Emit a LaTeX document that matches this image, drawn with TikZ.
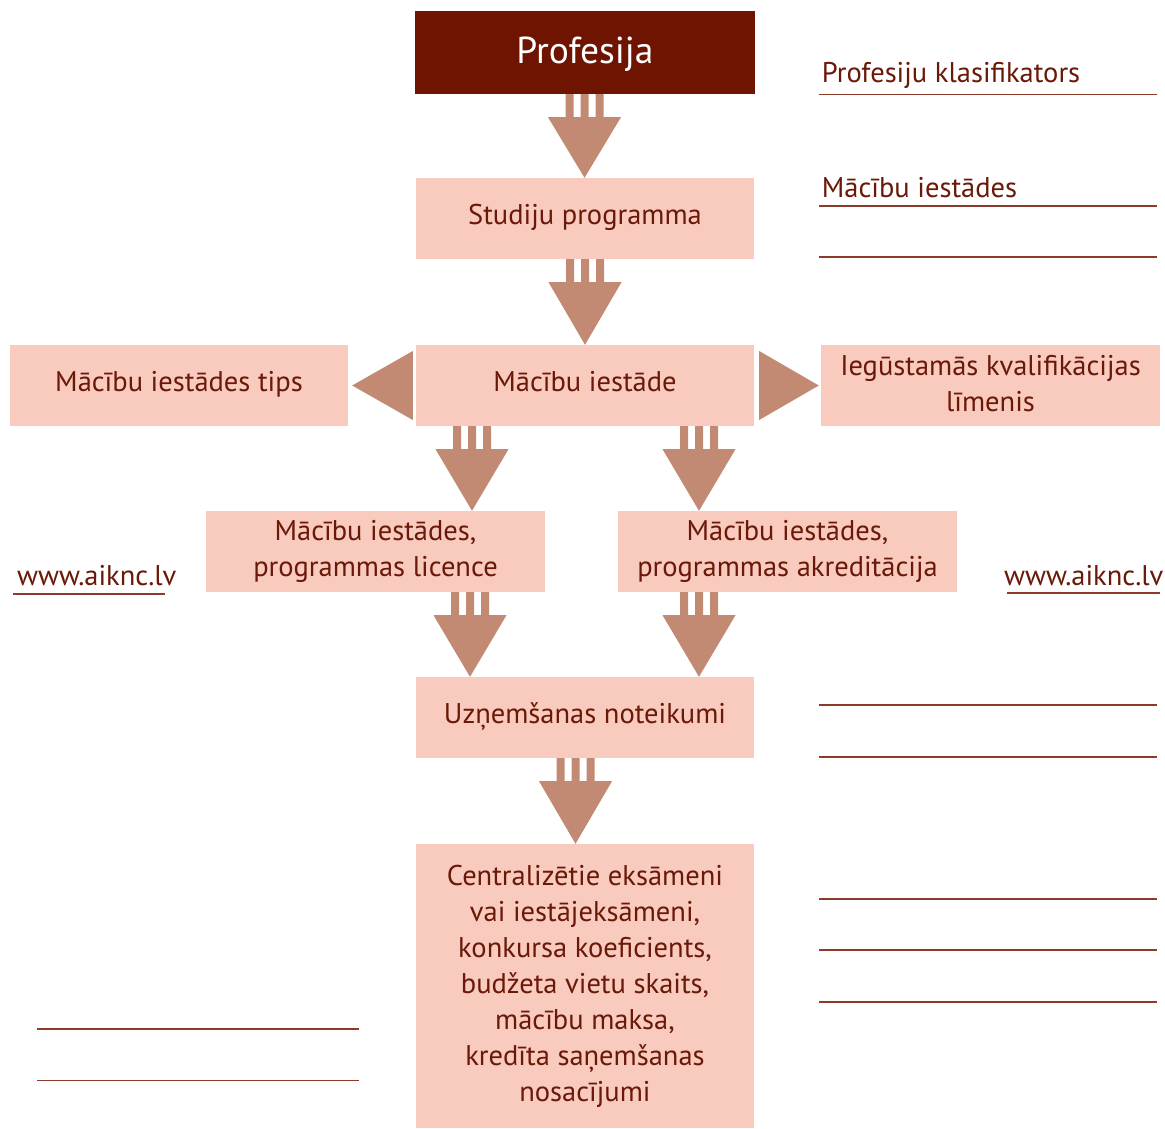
\documentclass[tikz,border=0pt]{standalone}
\usepackage{fontspec}
\setmainfont{PT Sans}
\usetikzlibrary{calc}
\definecolor{darkr}{HTML}{6E1400}
\definecolor{txtc}{HTML}{6A1808}
\definecolor{boxc}{HTML}{F9CBBE}
\definecolor{arrc}{HTML}{C28A73}
\definecolor{rulec}{HTML}{8C3A2A}
\newcommand\dnarrow[3]{%
  \path[arrfill] let \p1=(#2.south), \p2=(#3.north) in
    (#1-19,\y1) rectangle (#1-11,\y1-23pt)
    (#1-4,\y1) rectangle (#1+4,\y1-23pt)
    (#1+11,\y1) rectangle (#1+19,\y1-23pt)
    (#1-36.5,\y1-23pt) -- (#1+36.5,\y1-23pt) -- (#1,\y2) -- cycle;}
\begin{document}
\begin{tikzpicture}[x=1pt,y=-1pt,
  box/.style={rectangle, fill=boxc, text=txtc, minimum width=338pt, minimum height=81pt, inner sep=0pt, align=center, font=\fontsize{28.5}{36}\selectfont},
  onel/.style={text height=21pt, text depth=10pt},
  lbl/.style={text=txtc, anchor=base west, inner sep=0pt, font=\fontsize{28.5}{36}\selectfont},
  rulel/.style={draw=rulec, line width=1.8pt},
  arrfill/.style={fill=arrc}
]
\useasboundingbox (0,0) rectangle (1165,1128);
% boxes
\node[box, fill=darkr, text=white, minimum width=340pt, minimum height=83pt, font=\fontsize{37.5}{40}\selectfont, text depth=4pt] (prof) at (585,52.5) {Profesija};
\node[box, onel] (stud) at (585,218.5) {Studiju programma};
\node[box, onel] (iest) at (585,385.5) {Mācību iestāde};
\node[box, onel] (tips) at (179,385.5) {Mācību iestādes tips};
\node[box, minimum width=339pt, text depth=5pt] (kval) at (990.5,385.5) {Iegūstamās kvalifikācijas\\līmenis};
\node[box, minimum width=339pt] (lic) at (375.5,551.5) {Mācību iestādes,\\programmas licence};
\node[box, minimum width=339pt] (akr) at (787.5,551.5) {Mācību iestādes,\\programmas akreditācija};
\node[box, onel] (uzn) at (585,717.5) {Uzņemšanas noteikumi};
\node[box, minimum height=284pt] (cent) at (585,986) {Centralizētie eksāmeni\\vai iestājeksāmeni,\\konkursa koeficients,\\budžeta vietu skaits,\\mācību maksa,\\kredīta saņemšanas\\nosacījumi};
% arrows
\dnarrow{584.5}{prof}{stud}
\dnarrow{585}{stud}{iest}
\dnarrow{472}{iest}{lic}
\dnarrow{699}{iest}{akr}
\dnarrow{470}{lic}{uzn}
\dnarrow{699}{akr}{uzn}
\dnarrow{575.5}{uzn}{cent}
\path[arrfill] let \p1=(iest.west), \p2=(tips.east) in
  (\x1-3pt,\y1-34.5pt) -- (\x1-3pt,\y1+34.5pt) -- (\x2+4pt,\y2) -- cycle;
\path[arrfill] let \p1=(iest.east), \p2=(kval.west) in
  (\x1+5pt,\y1-34.5pt) -- (\x1+5pt,\y1+34.5pt) -- (\x2-2pt,\y2) -- cycle;
% side labels
\node[lbl] (pk) at (821.7,82) {Profesiju klasifikators};
\node[lbl] (mi) at (821.7,197) {Mācību iestādes};
\node[lbl] (w1) at (17,585) {www.aiknc.lv};
\node[lbl] (w2) at (1004,585) {www.aiknc.lv};
% rules
\foreach \yy in {94.5,206,257,705,757,899,950,1002}
  \draw[rulel] (819,\yy) -- (1157,\yy);
\foreach \yy in {1029,1080.5}
  \draw[rulel] (37,\yy) -- (358.5,\yy);
\draw[rulel] (13,594) -- (165,594);
\draw[rulel] (1007,593) -- (1160,593);
\end{tikzpicture}
\end{document}
